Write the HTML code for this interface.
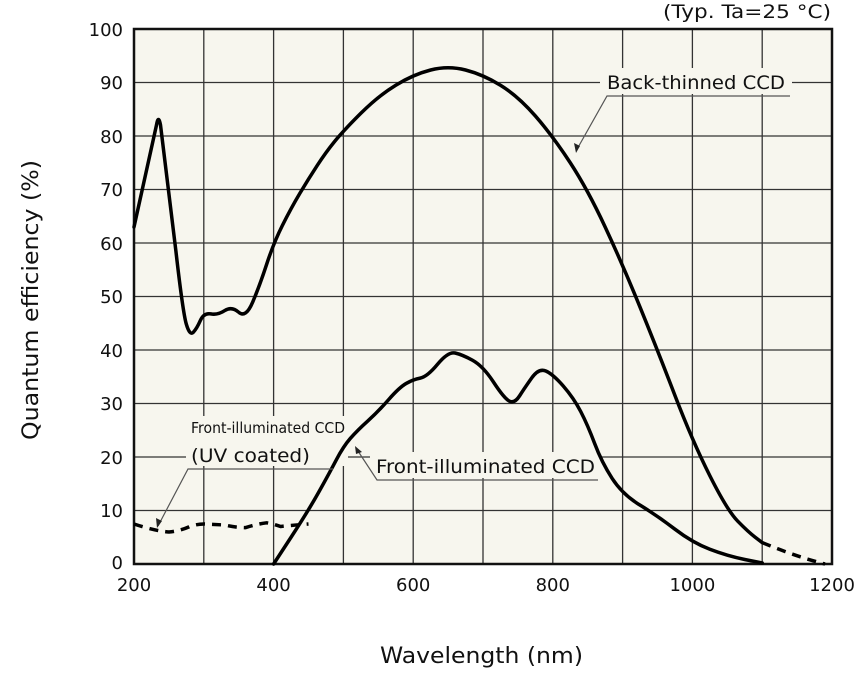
<!DOCTYPE html>
<html><head><meta charset="utf-8"><style>
body{margin:0;background:#fff;}
svg{display:block;font-family:"DejaVu Sans","Liberation Sans",sans-serif;}
</style></head><body>
<svg width="860" height="679" viewBox="0 0 860 679" xmlns="http://www.w3.org/2000/svg">
<rect x="134" y="29" width="698" height="535" fill="#f7f6ee"/>
<g stroke="#333" stroke-width="1.3">
<line x1="203.8" y1="29" x2="203.8" y2="564"/><line x1="273.6" y1="29" x2="273.6" y2="564"/>
<line x1="343.4" y1="29" x2="343.4" y2="564"/><line x1="413.2" y1="29" x2="413.2" y2="564"/>
<line x1="483" y1="29" x2="483" y2="564"/><line x1="552.8" y1="29" x2="552.8" y2="564"/>
<line x1="622.6" y1="29" x2="622.6" y2="564"/><line x1="692.4" y1="29" x2="692.4" y2="564"/>
<line x1="762.2" y1="29" x2="762.2" y2="564"/>
<line x1="134" y1="82.5" x2="832" y2="82.5"/><line x1="134" y1="136" x2="832" y2="136"/>
<line x1="134" y1="189.5" x2="832" y2="189.5"/><line x1="134" y1="243" x2="832" y2="243"/>
<line x1="134" y1="296.5" x2="832" y2="296.5"/><line x1="134" y1="350" x2="832" y2="350"/>
<line x1="134" y1="403.5" x2="832" y2="403.5"/><line x1="134" y1="457" x2="832" y2="457"/>
<line x1="134" y1="510.5" x2="832" y2="510.5"/>
</g>
<rect x="134" y="29" width="698" height="535" fill="none" stroke="#111" stroke-width="2.5"/>
<rect x="600" y="68" width="192" height="26" fill="#f7f6ee"/>
<rect x="370" y="452" width="230" height="26" fill="#f7f6ee"/>
<rect x="186" y="416" width="162" height="50" fill="#f7f6ee"/>
<g fill="none" stroke="#000" stroke-width="3.5" stroke-linejoin="round" stroke-linecap="round">
<path d="M134,227 L156.5,125 Q158.4,114 160.5,125 L175.9,251.05 Q182.9,312.6 186.35,324.3 Q189.8,336 193.3,332.3 Q196.8,328.6 200.3,320.6 Q203.8,312.6 210.8,313.9 Q217.8,315.2 224.75,310.6 Q231.7,306 238.7,312.25 Q245.7,318.5 252.65,302.15 Q259.6,285.8 266.6,264.4 Q273.6,243 282.3,225.6 Q291,208.2 299.75,193.5 Q308.5,178.8 317.25,165.4 Q326,152 334.7,141.35 Q343.4,130.7 360.85,113.3 Q378.3,95.9 395.75,85.2 Q413.2,74.5 430.65,70 Q448.1,65.5 465.55,70 Q483,74.5 500.45,85.2 Q517.9,95.9 535.35,115.95 Q552.8,136 570.25,162.75 Q587.7,189.5 605.15,226.95 Q622.6,264.4 640.05,307.2 Q657.5,350 674.95,395.5 Q692.4,441 709.85,475.75 Q727.3,510.5 737.75,521.2 Q748.2,531.9 755.2,537.25 L762.2,542.6"/>
<path d="M273.6,564 L291.05,537.25 Q308.5,510.5 318.95,491.75 Q329.4,473 336.4,459.65 Q343.4,446.3 350.4,438.3 Q357.4,430.3 367.85,420.9 Q378.3,411.5 388.75,399.5 Q399.2,387.5 406.2,383.45 Q413.2,379.4 420.2,378.1 Q427.2,376.8 437.65,364.15 Q448.1,351.5 455.05,353 Q462,354.5 472.5,360.25 Q483,366 493.45,382 Q503.9,398 509.15,401 Q514.4,404 519.65,395.75 Q524.9,387.5 531.85,377.75 Q538.8,368 545.8,371 Q552.8,374 563.25,386 Q573.7,398 580.7,411.5 Q587.7,425 594.7,443.65 Q601.7,462.3 612.15,478.4 Q622.6,494.5 640.05,505.15 Q657.5,515.8 674.95,529.2 Q692.4,542.6 709.85,549.3 Q727.3,556 744.75,559.5 L762.2,563"/>
<path stroke-dasharray="9,7" stroke-linecap="butt" d="M762.2,542.6 Q797,557 825,564"/>
<path stroke-dasharray="9,7" stroke-linecap="butt" d="M134,524 Q155,531 169,532 Q180,531 189.8,526.5 Q197,524 203.8,524 Q215,524.5 224.7,525 Q236,527.6 245.7,527.6 Q257,524 266.6,522.8 Q274,524 280.6,526.5 Q295,525 308.5,524"/>
</g>
<g stroke="#555" stroke-width="1.2" fill="none">
<polyline points="790,96 607,96 576,151"/>
<polyline points="598,480 377,480 356,448"/>
<polyline points="333,469 188,469 158,526"/>
</g>
<g fill="#222">
<polygon points="576,153 574,143 580,146"/>
<polygon points="355,446 362,452 356,454"/>
<polygon points="157,528 156,518 162,521"/>
</g>
<g font-size="19" fill="#111">
<text x="607" y="89" textLength="178" lengthAdjust="spacingAndGlyphs">Back-thinned CCD</text>
<text x="376" y="473" textLength="219" lengthAdjust="spacingAndGlyphs">Front-illuminated CCD</text>
<text x="191" y="462" textLength="119" lengthAdjust="spacingAndGlyphs">(UV coated)</text>
<text x="191" y="433" font-size="15" textLength="154" lengthAdjust="spacingAndGlyphs">Front-illuminated CCD</text>
<text x="663" y="18" textLength="168" lengthAdjust="spacingAndGlyphs">(Typ. Ta=25 °C)</text>
</g>
<g font-size="18" fill="#111" text-anchor="end">
<text x="123" y="36">100</text><text x="123" y="89">90</text><text x="123" y="143">80</text>
<text x="123" y="196">70</text><text x="123" y="250">60</text><text x="123" y="303">50</text>
<text x="123" y="357">40</text><text x="123" y="410">30</text><text x="123" y="464">20</text>
<text x="123" y="517">10</text><text x="123" y="569">0</text>
</g>
<g font-size="18" fill="#111" text-anchor="middle">
<text x="134" y="591">200</text><text x="273.6" y="591">400</text><text x="413.2" y="591">600</text>
<text x="552.8" y="591">800</text><text x="692.4" y="591">1000</text><text x="832" y="591">1200</text>
</g>
<text x="380" y="663" font-size="22" fill="#111" textLength="203" lengthAdjust="spacingAndGlyphs">Wavelength (nm)</text>
<text transform="translate(38,440) rotate(-90)" font-size="22" fill="#111" textLength="280" lengthAdjust="spacingAndGlyphs">Quantum efficiency (%)</text>
</svg>
</body></html>
